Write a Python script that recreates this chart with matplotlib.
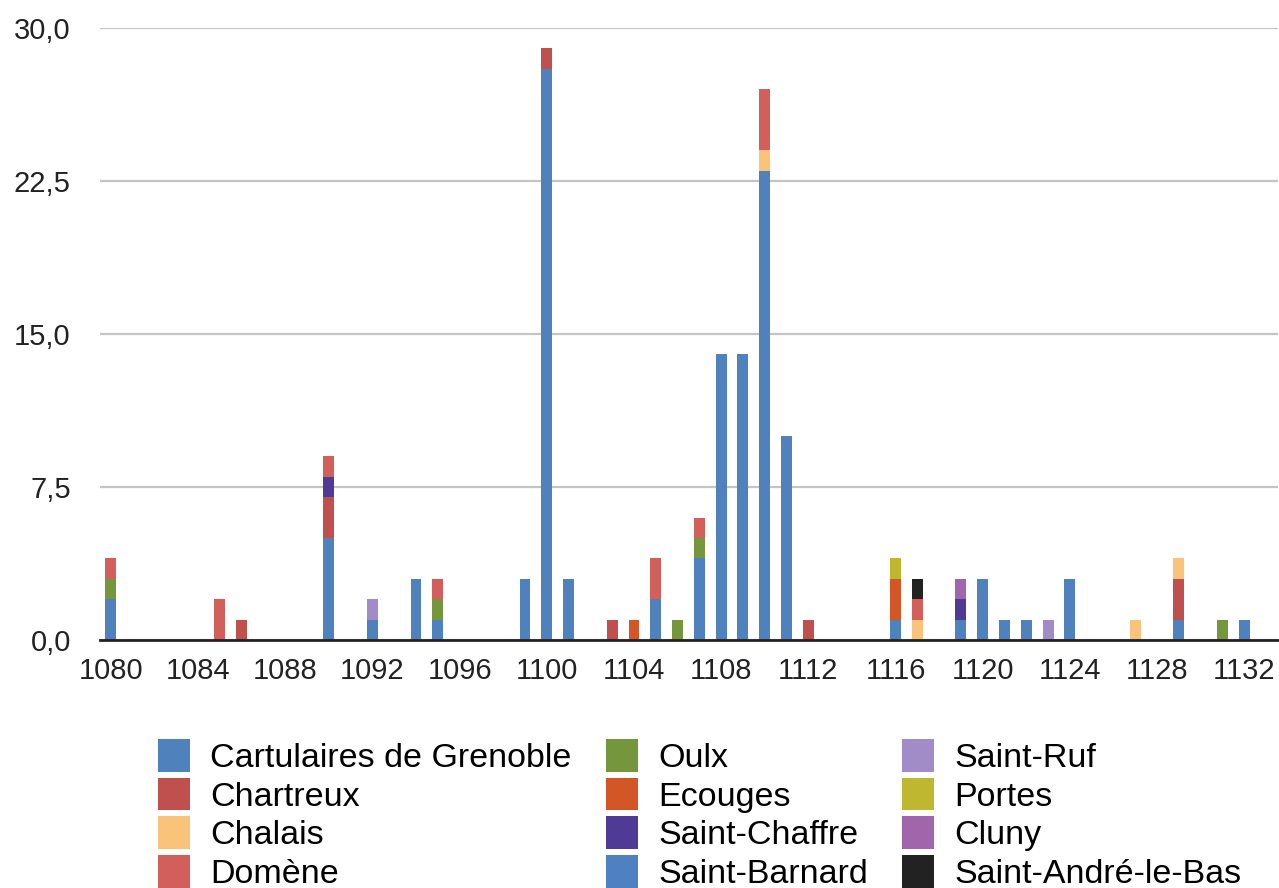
import matplotlib
matplotlib.use("Agg")
import matplotlib.pyplot as plt
from matplotlib.patches import Patch
import numpy as np

plt.rcParams['font.family'] = ['Liberation Sans', 'DejaVu Sans']

years = list(range(1080, 1133))
tick_years = list(range(1080, 1133, 4))
ytick_values = [0, 7.5, 15, 22.5, 30]
ytick_labels = ["0,0", "7,5", "15,0", "22,5", "30,0"]

# counts per series, sparse {year: count}
cartulaires = {1080: 2, 1090: 5, 1092: 1, 1094: 3, 1095: 1, 1099: 3, 1100: 28, 1101: 3,
               1105: 2, 1107: 4, 1108: 14, 1109: 14, 1110: 23, 1111: 10, 1116: 1,
               1119: 1, 1120: 3, 1121: 1, 1122: 1, 1124: 3, 1129: 1, 1132: 1}
chartreux = {1086: 1, 1090: 2, 1100: 1, 1103: 1, 1112: 1, 1129: 2}
chalais = {1110: 1, 1117: 1, 1127: 1, 1129: 1}
domene = {1080: 1, 1085: 2, 1090: 1, 1095: 1, 1105: 2, 1107: 1, 1110: 3, 1117: 1}
oulx = {1080: 1, 1095: 1, 1106: 1, 1107: 1, 1131: 1}
ecouges = {1104: 1, 1116: 2}
saint_chaffre = {1090: 1, 1119: 1}
saint_barnard = {}
saint_ruf = {1092: 1, 1123: 1}
portes = {1116: 1}
cluny = {1119: 1}
saint_andre = {1117: 1}

legend_names = ["Cartulaires de Grenoble", "Chartreux", "Chalais", "Domène",
                "Oulx", "Ecouges", "Saint-Chaffre", "Saint-Barnard",
                "Saint-Ruf", "Portes", "Cluny", "Saint-André-le-Bas"]
series = {
    "Cartulaires de Grenoble": cartulaires, "Chartreux": chartreux, "Chalais": chalais,
    "Domène": domene, "Oulx": oulx, "Ecouges": ecouges, "Saint-Chaffre": saint_chaffre,
    "Saint-Barnard": saint_barnard, "Saint-Ruf": saint_ruf, "Portes": portes,
    "Cluny": cluny, "Saint-André-le-Bas": saint_andre,
}
colors = {
    "Cartulaires de Grenoble": "#4F81BD", "Chartreux": "#C0504D", "Chalais": "#F9C479",
    "Domène": "#D35F5C", "Oulx": "#76963D", "Ecouges": "#D35726",
    "Saint-Chaffre": "#4F3A96", "Saint-Barnard": "#4F81C2", "Saint-Ruf": "#A28CC8",
    "Portes": "#BFB730", "Cluny": "#A065AB", "Saint-André-le-Bas": "#222222",
}
stack_order = ["Cartulaires de Grenoble", "Chartreux", "Chalais", "Oulx", "Ecouges",
               "Saint-Chaffre", "Saint-Barnard", "Saint-Ruf", "Portes", "Cluny",
               "Domène", "Saint-André-le-Bas"]

fig = plt.figure(figsize=(12.79, 8.88), dpi=100)
ax = fig.add_axes([100/1279, 1-640/888, 1178/1279, 612/888])

x = np.arange(len(years))
bottom = np.zeros(len(years))
for name in stack_order:
    vals = np.array([series[name].get(y, 0) for y in years], dtype=float)
    ax.bar(x, vals, width=0.5, bottom=bottom, color=colors[name], linewidth=0, zorder=3)
    bottom += vals

ax.set_ylim(0, 30)
ax.set_xlim(-0.5, 53.55)
ax.set_yticks(ytick_values)
ax.set_yticklabels(ytick_labels)
ax.set_xticks([years.index(t) for t in tick_years])
ax.set_xticklabels([str(t) for t in tick_years])
ax.tick_params(axis='both', length=0, labelsize=21, colors="#222222")
ax.tick_params(axis='y', pad=21)
ax.tick_params(axis='x', pad=12)
ax.yaxis.grid(True, color="#C4C4C4", linewidth=1.6, zorder=0)
ax.set_axisbelow(True)
for s in ["top", "right", "left"]:
    ax.spines[s].set_visible(False)
ax.spines["bottom"].set_color("#222222")
ax.spines["bottom"].set_linewidth(2)
ax.spines["bottom"].set_zorder(4)

handles = [Patch(facecolor=colors[n], edgecolor="none") for n in legend_names]
fig.legend(handles, legend_names, ncol=3, loc="upper left",
           bbox_to_anchor=(158/1279, 1-739/888), frameon=False,
           fontsize=24.5, handlelength=0.94, handleheight=1.1, handletextpad=0.6,
           labelspacing=0.11, columnspacing=1.0, borderaxespad=0, borderpad=0)

fig.savefig("out.png", dpi=100)
